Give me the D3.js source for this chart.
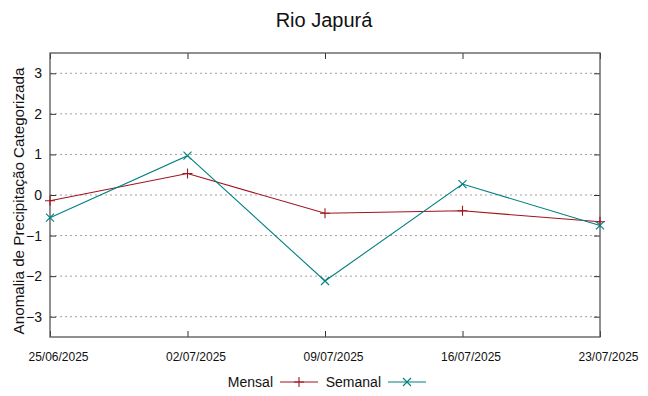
<!DOCTYPE html>
<html>
<head>
<meta charset="utf-8">
<script src="https://cdn.jsdelivr.net/npm/d3@7"></script>
<style>
  body { margin: 0; background: #fff; }
  svg { font-family: "Liberation Sans", Arial, sans-serif; }
</style>
</head>
<body>
<svg id="viz" width="648" height="396"></svg>
<script>
// --- Data ---
const dates = ["25/06/2025", "02/07/2025", "09/07/2025", "16/07/2025", "23/07/2025"];
const mensal = [-0.14, 0.53, -0.45, -0.39, -0.66];
const semanal = [-0.56, 0.97, -2.12, 0.27, -0.75];
const yTicks = [-3, -2, -1, 0, 1, 2, 3];

const COLORS = { mensal: "#a0141e", semanal: "#008080", grid: "#a0a0a0", frame: "#555" };

const svg = d3.select("#viz");
const margin = { left: 50, right: 48, top: 53, bottom: 59 };
const W = 648, H = 396;
const plotW = W - margin.left - margin.right;
const plotH = H - margin.top - margin.bottom;

const x = d3.scalePoint().domain(dates).range([margin.left, margin.left + plotW]);
const y = d3.scaleLinear().domain([-3.5, 3.5]).range([margin.top + plotH, margin.top]);

// title
svg.append("text")
    .attr("x", W / 2).attr("y", 27)
    .attr("text-anchor", "middle")
    .attr("font-size", 20)
    .attr("fill", "#111")
    .text("Rio Japurá");

// grid lines (horizontal only)
svg.append("g")
    .selectAll("line")
    .data(yTicks)
    .join("line")
    .attr("x1", margin.left).attr("x2", margin.left + plotW)
    .attr("y1", d => y(d)).attr("y2", d => y(d))
    .attr("stroke", COLORS.grid)
    .attr("stroke-width", 1)
    .attr("stroke-dasharray", "2,3");

// axes (ticks inward, mirrored)
const yAxis = svg.append("g")
    .attr("transform", `translate(${margin.left},0)`)
    .call(d3.axisLeft(y).tickValues(yTicks).tickSize(-6).tickPadding(8).tickFormat(d3.format("d")));
const yAxisR = svg.append("g")
    .attr("transform", `translate(${margin.left + plotW},0)`)
    .call(d3.axisRight(y).tickValues(yTicks).tickSize(-6).tickFormat(""));
const xAxis = svg.append("g")
    .attr("transform", `translate(0,${margin.top + plotH})`)
    .call(d3.axisBottom(x).tickSize(-6).tickPadding(15));
const xAxisT = svg.append("g")
    .attr("transform", `translate(0,${margin.top})`)
    .call(d3.axisTop(x).tickSize(-6).tickFormat(""));

[yAxis, yAxisR, xAxis, xAxisT].forEach(g => {
    g.select(".domain").remove();
    g.selectAll(".tick line").attr("stroke", "#333");
});
yAxis.selectAll("text")
    .attr("font-size", 14).attr("fill", "#111")
    .attr("font-family", "Liberation Sans, Arial, sans-serif");
xAxis.selectAll("text")
    .attr("font-size", 12).attr("fill", "#111")
    .attr("font-family", "Liberation Sans, Arial, sans-serif")
    .attr("dx", 8);

// frame
svg.append("rect")
    .attr("x", margin.left).attr("y", margin.top)
    .attr("width", plotW).attr("height", plotH)
    .attr("fill", "none").attr("stroke", COLORS.frame).attr("stroke-width", 1.3);

// y label
svg.append("text")
    .attr("transform", `translate(24,201) rotate(-90)`)
    .attr("text-anchor", "middle")
    .attr("font-size", 15.2)
    .attr("fill", "#111")
    .text("Anomalia de Precipitação Categorizada");

// --- series ---
const line = d3.line().x((d, i) => x(dates[i])).y(d => y(d));

svg.append("path").datum(mensal)
    .attr("d", line).attr("fill", "none")
    .attr("stroke", COLORS.mensal).attr("stroke-width", 1.1);
svg.append("path").datum(semanal)
    .attr("d", line).attr("fill", "none")
    .attr("stroke", COLORS.semanal).attr("stroke-width", 1.1);

function drawPlus(g, cx, cy, s, color) {
    g.append("path").attr("d", `M${cx - s},${cy}H${cx + s}M${cx},${cy - s}V${cy + s}`)
        .attr("stroke", color).attr("stroke-width", 1.1).attr("fill", "none");
}
function drawX(g, cx, cy, s, color) {
    g.append("path").attr("d", `M${cx - s},${cy - s}L${cx + s},${cy + s}M${cx - s},${cy + s}L${cx + s},${cy - s}`)
        .attr("stroke", color).attr("stroke-width", 1.1).attr("fill", "none");
}
const marks = svg.append("g");
mensal.forEach((v, i) => drawPlus(marks, x(dates[i]), y(v), 5, COLORS.mensal));
semanal.forEach((v, i) => drawX(marks, x(dates[i]), y(v), 4, COLORS.semanal));

// --- legend ---
const leg = svg.append("g").attr("font-size", 14).attr("fill", "#111");
const ly = 382;
leg.append("text").attr("x", 273).attr("y", ly).attr("dy", "0.35em").attr("text-anchor", "end").text("Mensal");
leg.append("line").attr("x1", 280).attr("x2", 318).attr("y1", ly).attr("y2", ly)
    .attr("stroke", COLORS.mensal).attr("stroke-width", 1.1);
drawPlus(leg, 299, ly, 5, COLORS.mensal);
leg.append("text").attr("x", 381).attr("y", ly).attr("dy", "0.35em").attr("text-anchor", "end").text("Semanal");
leg.append("line").attr("x1", 388).attr("x2", 426).attr("y1", ly).attr("y2", ly)
    .attr("stroke", COLORS.semanal).attr("stroke-width", 1.1);
drawX(leg, 407, ly, 4, COLORS.semanal);
</script>
</body>
</html>
